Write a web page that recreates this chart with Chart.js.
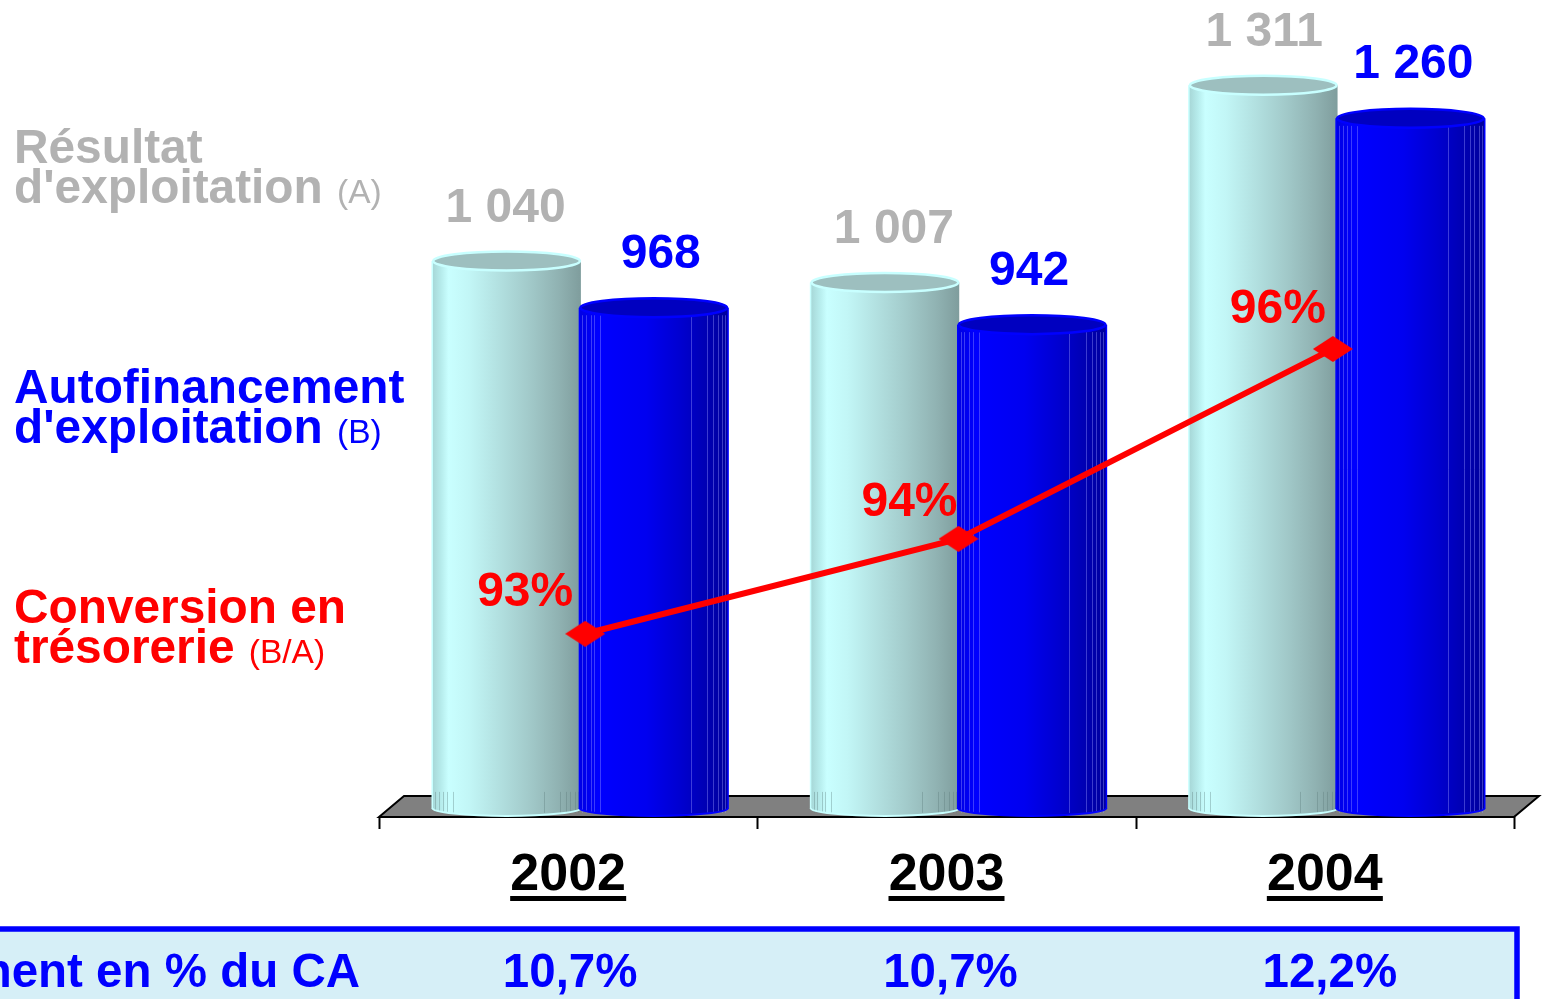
<!DOCTYPE html>
<html><head><meta charset="utf-8">
<style>html,body{margin:0;padding:0;background:#fff;overflow:hidden}canvas{display:block}</style>
<script src="https://cdn.jsdelivr.net/npm/chart.js@4"></script>
</head><body><canvas id="c" width="1546" height="999"></canvas>
<script>
const years = ['2002','2003','2004'];
const resultat = [1040,1007,1311];
const autofinancement = [968,942,1260];
const conversion = [93,94,96];
const ratioCA = ['10,7%','10,7%','12,2%'];

const FONT = '"Liberation Sans", Arial, sans-serif';
const GREY='#b2b2b2', BLUE='#0000ff', RED='#ff0000';
const RY = 9.5, BOTTOM_DROP = 8;
const nudgeA=[-1,9,1], nudgeB=[7,-3,3];
const pctNudge=[[-60,-44],[-49,-39],[-55,-42]];
const ratioNudge=[2,4,5];
const lineNudge=[5,0,-4];

const lightStops=[[0,'#a6d6d6'],[.06,'#b6ecec'],[.11,'#c9ffff'],[.25,'#c2f6f6'],[.45,'#b2e0e0'],[.65,'#a2caca'],[.85,'#90b2b2'],[1,'#7f9d9d']];
const darkStops=[[0,'#0000e4'],[.08,'#0000f4'],[.12,'#0000ff'],[.45,'#0000f0'],[.68,'#0000d0'],[.85,'#0000b4'],[1,'#00009c']];

function grad(ctx,x0,w,stops){const g=ctx.createLinearGradient(x0,0,x0+w,0);stops.forEach(s=>g.addColorStop(s[0],s[1]));return g;}
function fmt(v){return String(v).replace(/\B(?=(\d{3})+$)/g,' ');}

const diamond=document.createElement('canvas');diamond.width=40;diamond.height=26;
(function(){const d=diamond.getContext('2d');d.fillStyle=RED;d.beginPath();d.moveTo(0,13);d.lineTo(20,0);d.lineTo(40,13);d.lineTo(20,26);d.closePath();d.fill();})();

function decorate(chart,meta,isLight){
  const ctx=chart.ctx;
  const rim=isLight?'#c8ffff':'#0000ff', top=isLight?'#9dbfbf':'#0000c0', line=isLight?'rgba(90,120,120,.35)':'rgba(150,150,255,.4)';
  meta.data.forEach(el=>{
    const x0=el.x-el.width/2,w=el.width,cx=el.x,rx=w/2,b=el.base;
    ctx.save();
    ctx.fillStyle=grad(ctx,x0,w,isLight?lightStops:darkStops);
    ctx.beginPath();ctx.moveTo(x0,b-1);ctx.ellipse(cx,b,rx,BOTTOM_DROP,0,Math.PI,0,true);ctx.closePath();ctx.fill();
    ctx.strokeStyle=line;ctx.lineWidth=1;
    [.02,.045,.075,.1,.14,.75,.86,.9,.93,.96,.98].forEach(f=>{
      const px=Math.round(x0+w*f)+.5;
      const from=isLight?b-16:el.y+RY-2;
      ctx.beginPath();ctx.moveTo(px,from);ctx.lineTo(px,b+BOTTOM_DROP-3);ctx.stroke();
    });
    ctx.strokeStyle=rim;ctx.lineWidth=2;
    ctx.beginPath();ctx.ellipse(cx,b,rx,BOTTOM_DROP,0,Math.PI,0,true);ctx.stroke();
    ctx.lineWidth=1.5;
    ctx.beginPath();ctx.moveTo(x0,el.y);ctx.lineTo(x0,b);ctx.stroke();
    if(!isLight){ctx.beginPath();ctx.moveTo(x0+w,el.y);ctx.lineTo(x0+w,b);ctx.stroke();}
    ctx.fillStyle=top;ctx.strokeStyle=rim;ctx.lineWidth=2.5;
    ctx.beginPath();ctx.ellipse(cx,el.y,rx-1,RY,0,0,Math.PI*2);ctx.fill();ctx.stroke();
    ctx.restore();
  });
}

const cylinder={
 id:'cylinder',
 afterDatasetsUpdate(chart){
  chart.getDatasetMeta(2).data.forEach((pt,i)=>{pt.x+=lineNudge[i];});
 },
 beforeDatasetsDraw(chart){
  [0,1].forEach(i=>{chart.getDatasetMeta(i).data.forEach(el=>{
    const st=i===0?lightStops:darkStops;
    el.options=Object.assign({},el.options,{backgroundColor:grad(chart.ctx,el.x-el.width/2,el.width,st)});
  });});
 },
 beforeDatasetDraw(chart,args){
  if(args.index===1)return false;   // dark bars are painted after the light ones
 },
 afterDatasetDraw(chart,args){
  if(args.index!==0)return;
  decorate(chart,args.meta,true);
  const dark=chart.getDatasetMeta(1);
  dark.controller.draw();
  decorate(chart,dark,false);
 },
 beforeDraw(chart){
  const ctx=chart.ctx,xs=chart.scales.x,floorY=chart.chartArea.bottom;
  const band=xs.width/years.length,left=xs.left-12,right=xs.right-12;
  ctx.save();
  ctx.fillStyle='#d6eff7';ctx.fillRect(-5,929,1522,80);
  ctx.strokeStyle=BLUE;ctx.lineWidth=5.5;ctx.beginPath();ctx.moveTo(-5,929);ctx.lineTo(1517,929);ctx.lineTo(1517,1005);ctx.stroke();
  ctx.fillStyle='#808080';ctx.strokeStyle='#000';ctx.lineWidth=2;
  ctx.beginPath();ctx.moveTo(left,floorY);ctx.lineTo(left+25,floorY-21);ctx.lineTo(right+25,floorY-21);ctx.lineTo(right,floorY);ctx.closePath();ctx.fill();ctx.stroke();
  for(let i=0;i<=years.length;i++){
    const px=Math.round(left+band*i)+.5;
    ctx.beginPath();ctx.moveTo(px,floorY);ctx.lineTo(px,floorY+12);ctx.stroke();
  }
  ctx.restore();
 },
 afterDraw(chart){
  const ctx=chart.ctx;
  ctx.save();
  ctx.textBaseline='alphabetic';
  const m0=chart.getDatasetMeta(0).data,m1=chart.getDatasetMeta(1).data,m2=chart.getDatasetMeta(2).data;
  ctx.textAlign='center';ctx.font='bold 48px '+FONT;
  m0.forEach((el,i)=>{ctx.fillStyle=GREY;ctx.fillText(fmt(resultat[i]),el.x+nudgeA[i],el.y-39);});
  m1.forEach((el,i)=>{ctx.fillStyle=BLUE;ctx.fillText(fmt(autofinancement[i]),el.x+nudgeB[i],el.y-40);});
  m2.forEach((el,i)=>{ctx.fillStyle=RED;ctx.fillText(conversion[i]+'%',el.x+pctNudge[i][0],el.y+pctNudge[i][1]+16);});
  const xs=chart.scales.x;ctx.fillStyle='#000';
  years.forEach((y,i)=>{const cx=xs.getPixelForTick(i)-12;ctx.fillRect(cx-58,896,116,5);});
  ctx.fillStyle=BLUE;ctx.font='bold 47.5px '+FONT;
  years.forEach((y,i)=>{ctx.fillText(ratioCA[i],xs.getPixelForTick(i)-12+ratioNudge[i],987);});
  ctx.textAlign='right';ctx.fillText('Autofinancement en % du CA',360,987);
  ctx.textAlign='left';
  const leg=[[GREY,'Résultat',"d'exploitation",'(A)',163],[BLUE,'Autofinancement',"d'exploitation",'(B)',403],[RED,'Conversion en','trésorerie','(B/A)',623]];
  leg.forEach(l=>{
    ctx.fillStyle=l[0];ctx.font='bold 47.8px '+FONT;
    ctx.fillText(l[1],14,l[4]);ctx.fillText(l[2],14,l[4]+40);
    const w=ctx.measureText(l[2]+' ').width;
    ctx.font='33.5px '+FONT;ctx.fillText(l[3],15+w,l[4]+40);
  });
  ctx.restore();
 }
};

new Chart(document.getElementById('c'),{
 data:{labels:years,datasets:[
  {type:'bar',label:"Résultat d'exploitation (A)",data:resultat,backgroundColor:()=>'#b2e0e0',borderWidth:0,base:197,order:2,categoryPercentage:.778,barPercentage:1.01},
  {type:'bar',label:"Autofinancement d'exploitation (B)",data:autofinancement,backgroundColor:()=>'#0000f0',borderWidth:0,base:197,order:3,categoryPercentage:.778,barPercentage:1.01},
  {type:'line',label:'Conversion en trésorerie (B/A)',data:conversion,yAxisID:'yPct',borderColor:RED,borderWidth:6,pointStyle:diamond,backgroundColor:RED,tension:0,order:1,clip:false}
 ]},
 options:{
  responsive:false,animation:false,
  layout:{padding:{left:391,right:20,top:0,bottom:0}},
  plugins:{legend:{display:false},tooltip:{enabled:false},title:{display:false}},
  scales:{
   x:{type:'category',position:'bottom',offset:true,
      afterFit(s){s.height=182;},
      grid:{display:false},border:{display:false},
      ticks:{color:'#000',font:{family:FONT,size:52,weight:'bold'},padding:19,labelOffset:-12,maxRotation:0,autoSkip:false}},
   y:{type:'linear',display:false,min:183,max:1427},
   yPct:{type:'linear',display:false,min:91.07,max:99.57}
  }
 },
 plugins:[cylinder]
});
</script></body></html>
